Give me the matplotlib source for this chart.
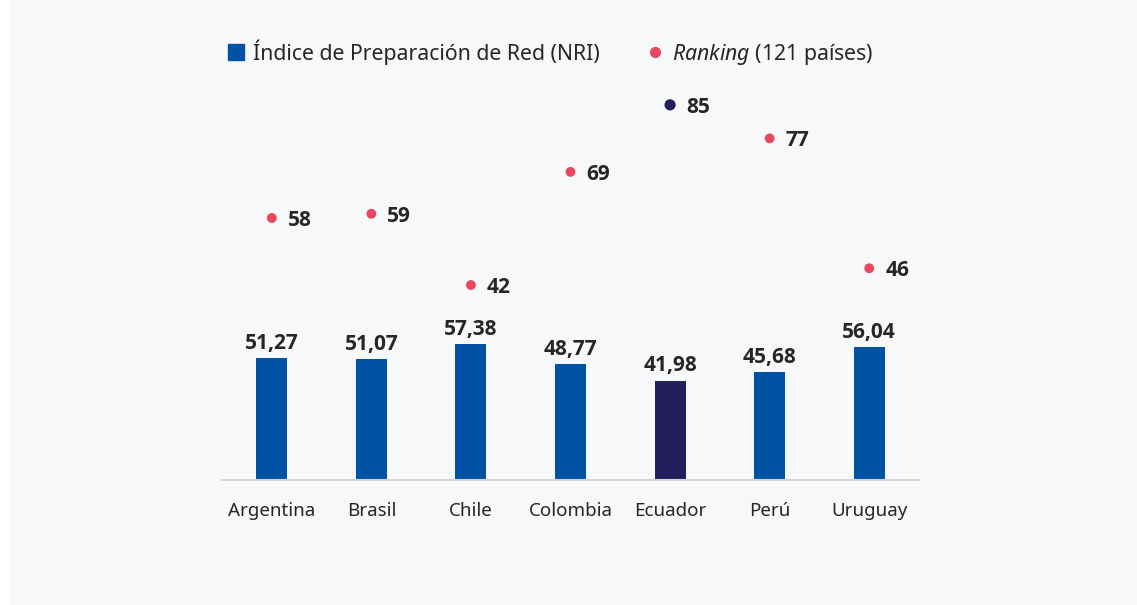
import matplotlib
matplotlib.use("Agg")
import matplotlib.pyplot as plt
from matplotlib.lines import Line2D

# ---------- data ----------
paises = ["Argentina", "Brasil", "Chile", "Colombia", "Ecuador", "Perú", "Uruguay"]
nri = [51.27, 51.07, 57.38, 48.77, 41.98, 45.68, 56.04]
ranking = [58, 59, 42, 69, 85, 77, 46]
destacado = "Ecuador"

AZUL = "#0052a5"
NAVY = "#221f5c"
ROSA = "#e8475f"
TEXTO = "#262626"
FONDO = "#f7f8fa"

plt.rcParams["font.family"] = ["Noto Sans", "DejaVu Sans"]
plt.rcParams["mathtext.fontset"] = "custom"
plt.rcParams["mathtext.it"] = "Noto Sans:italic"
plt.rcParams["mathtext.rm"] = "Noto Sans"

fig = plt.figure(figsize=(11.37, 6.05), dpi=100)
fig.patch.set_facecolor("white")
# light panel, thin white strip on the left edge
fig.add_artist(plt.Rectangle((9 / 1137, 0), 1, 1, transform=fig.transFigure,
                             color=FONDO, zorder=0))

ax = fig.add_axes([222 / 1137, 125 / 605, 697 / 1137, 400 / 605])
ax.patch.set_alpha(0)
x = range(len(paises))
bar_cols = [NAVY if p == destacado else AZUL for p in paises]
ax.bar(x, nri, width=0.31, color=bar_cols, zorder=2)
ax.set_xlim(-0.5, len(paises) - 0.5)
ax.set_ylim(0, 400 / 2.37)

# Noto Sans has no bold here, Open Sans does
BOLD = dict(fontsize=15, fontweight="bold", color=TEXTO,
            family=["Open Sans", "Noto Sans", "DejaVu Sans"])

for xi, v in zip(x, nri):
    ax.annotate(f"{v:.2f}".replace(".", ","), (xi, v), xytext=(0, 3),
                textcoords="offset points", ha="center", va="bottom", **BOLD)

for s in ["top", "right", "left"]:
    ax.spines[s].set_visible(False)
ax.spines["bottom"].set_color("#d3d5d8")
ax.spines["bottom"].set_linewidth(1.5)
ax.set_yticks([])
ax.set_xticks(list(x))
ax.set_xticklabels(paises, fontsize=13.5, color=TEXTO)
ax.tick_params(axis="x", length=0, pad=16)

# ranking on its own scale
ax2 = ax.twinx()
ax2.set_ylim(-19 / 4.19, 381 / 4.19)
dot_cols = [NAVY if p == destacado else ROSA for p in paises]
ax2.scatter(x, ranking, s=[65 if p == destacado else 50 for p in paises],
            color=dot_cols, zorder=3, linewidths=0)
for xi, r in zip(x, ranking):
    ax2.annotate(str(r), (xi, r), xytext=(11.5, 0), textcoords="offset points",
                 ha="left", va="center_baseline", **BOLD)
ax2.axis("off")

handles = [
    Line2D([], [], marker="s", ls="", color=AZUL, markersize=11),
    Line2D([], [], marker="o", ls="", color=ROSA, markersize=7),
]
labels = ["Índice de Preparación de Red (NRI)", r"$\it{Ranking}$ (121 países)"]
fig.legend(handles, labels, loc="center", bbox_to_anchor=(549 / 1137, 1 - 53 / 605),
           ncol=2, frameon=False, fontsize=15.3, handletextpad=0.3,
           columnspacing=2.1, labelcolor=TEXTO, handlelength=1.0)

fig.savefig("out.png", dpi=100, facecolor=fig.get_facecolor())
